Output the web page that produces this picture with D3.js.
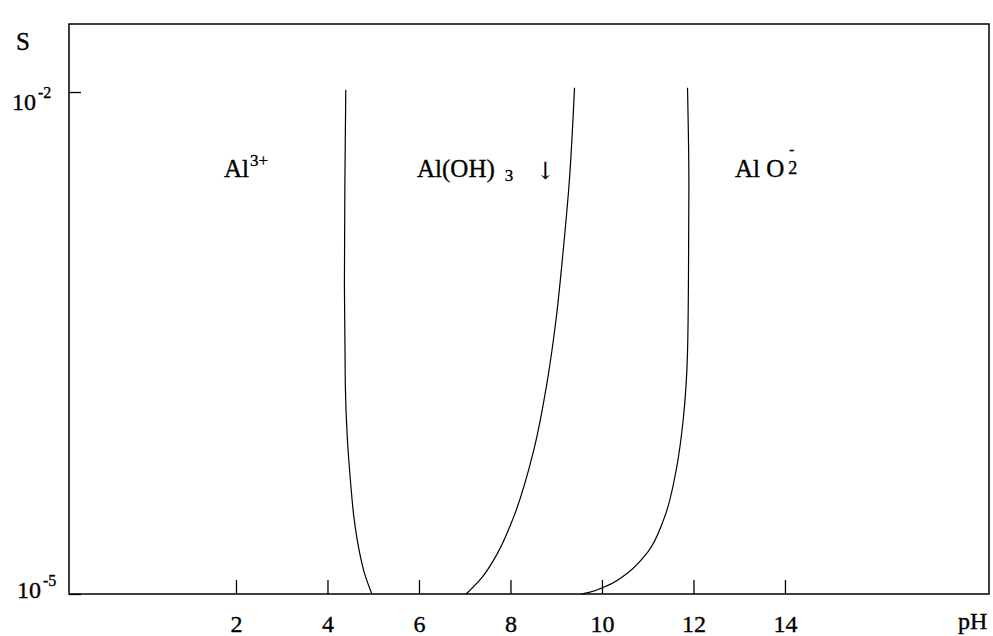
<!DOCTYPE html>
<html>
<head>
<meta charset="utf-8">
<script src="https://cdn.jsdelivr.net/npm/d3@7/dist/d3.min.js"></script>
<style>
  html, body { margin: 0; padding: 0; background: #fff; }
  svg text { font-family: "Liberation Serif", "DejaVu Serif", serif; fill: #000; stroke: #000; stroke-width: 0.35px; }
</style>
</head>
<body>
<svg id="chart" width="993" height="636"></svg>
<script>
// ---- data ----
const xTickValues = [2, 4, 6, 8, 10, 12, 14];
const yTickValues = [1e-2, 1e-5];
const yTickExponents = ["-2", "-5"];

// boundary Al3+ / Al(OH)3
const curve1pH = [4.40, 4.38, 4.37, 4.39, 4.43, 4.51, 4.58, 4.70, 4.82, 4.97];
const curve1S  = [1.03e-2, 2.78e-3, 7.03e-4, 1.77e-4, 8.91e-5, 4.48e-5, 2.84e-5, 1.78e-5, 1.30e-5, 1.0e-5];
// boundary Al(OH)3 (right side of precipitate region)
const curve2pH = [9.40, 9.28, 9.15, 9.00, 8.79, 8.50, 8.06, 7.73, 7.37, 7.03];
const curve2S  = [1.06e-2, 2.78e-3, 1.11e-3, 4.46e-4, 1.77e-4, 7.06e-5, 2.84e-5, 1.78e-5, 1.25e-5, 1.0e-5];
// boundary AlO2-
const curve3pH = [11.87, 11.90, 11.89, 11.87, 11.78, 11.63, 11.36, 11.00, 10.58, 10.14, 9.70, 9.55];
const curve3S  = [1.06e-2, 2.78e-3, 7.03e-4, 2.79e-4, 1.13e-4, 5.66e-5, 2.84e-5, 1.78e-5, 1.35e-5, 1.13e-5, 1.02e-5, 1.0e-5];

const svg = d3.select("#chart");
const L = 69, T = 24, R = 989, B = 594;
const x = d3.scaleLinear().domain([-1.65, 18.46]).range([L, R]);
const y = d3.scaleLog().domain([1e-5, Math.pow(10, -1.5935)]).range([B, T]);

// frame
svg.append("rect").attr("x", L).attr("y", T).attr("width", R - L).attr("height", B - T)
  .attr("fill", "none").attr("stroke", "#000").attr("stroke-width", 1.5);

// x axis ticks (inward)
const xa = svg.append("g").attr("transform", `translate(0,${B})`)
  .call(d3.axisBottom(x).tickValues(xTickValues).tickSize(-14).tickPadding(21).tickFormat(d3.format("d")));
xa.select(".domain").remove();
xa.selectAll("line").attr("stroke", "#000").attr("stroke-width", 1.3);
xa.selectAll("text").style("font-size", "24px").attr("font-family", "Liberation Serif");

// y axis ticks (inward)
const ya = svg.append("g").attr("transform", `translate(${L},0)`)
  .call(d3.axisLeft(y).tickValues(yTickValues).tickSize(-12).tickFormat(""));
ya.select(".domain").remove();
ya.selectAll("line").attr("stroke", "#000").attr("stroke-width", 1.3);

// y tick labels as 10^exp
const yLabelX = [12, 17];
const yLabelDY = [18, 4];
yTickValues.forEach((v, i) => {
  const t = svg.append("text").attr("x", yLabelX[i]).attr("y", y(v) + yLabelDY[i]).style("font-size", "24px");
  t.append("tspan").text("10");
  t.append("tspan").attr("dx", 2).attr("dy", -12).style("font-size", "16px").text(yTickExponents[i]);
});

// axis titles
svg.append("text").attr("x", 16).attr("y", 50).style("font-size", "25px").text("S");
svg.append("text").attr("x", 958).attr("y", 629).style("font-size", "24px").text("pH");

// curves
const line = d3.line().x(d => x(d[0])).y(d => y(d[1])).curve(d3.curveMonotoneY);
[[curve1pH, curve1S], [curve2pH, curve2S], [curve3pH, curve3S]].forEach(([px, s]) => {
  svg.append("path").datum(px.map((p, i) => [p, s[i]]))
    .attr("d", line).attr("fill", "none").attr("stroke", "#000").attr("stroke-width", 1.2);
});

// region labels
const lab1 = svg.append("text").attr("x", 224).attr("y", 177).style("font-size", "25px");
lab1.append("tspan").text("Al");
lab1.append("tspan").attr("dx", 1).attr("dy", -11).style("font-size", "17px").text("3+");

const lab2 = svg.append("text").attr("x", 417).attr("y", 177).style("font-size", "25px");
lab2.append("tspan").text("Al(OH)");
lab2.append("tspan").attr("dx", 10).attr("dy", 4).style("font-size", "17px").text("3");
lab2.append("tspan").attr("dx", 22).attr("dy", -2)
  .style("font-family", "DejaVu Serif").style("font-size", "24px").style("stroke-width", "0px").text("\u2193");

const lab3 = svg.append("text").attr("x", 735).attr("y", 177).style("font-size", "25px");
lab3.append("tspan").text("Al O");
lab3.append("tspan").attr("dx", 4).attr("dy", -3).style("font-size", "18px").text("2");
lab3.append("tspan").attr("dx", -8).attr("dy", -20).style("font-size", "15px").text("-");
</script>
</body>
</html>
